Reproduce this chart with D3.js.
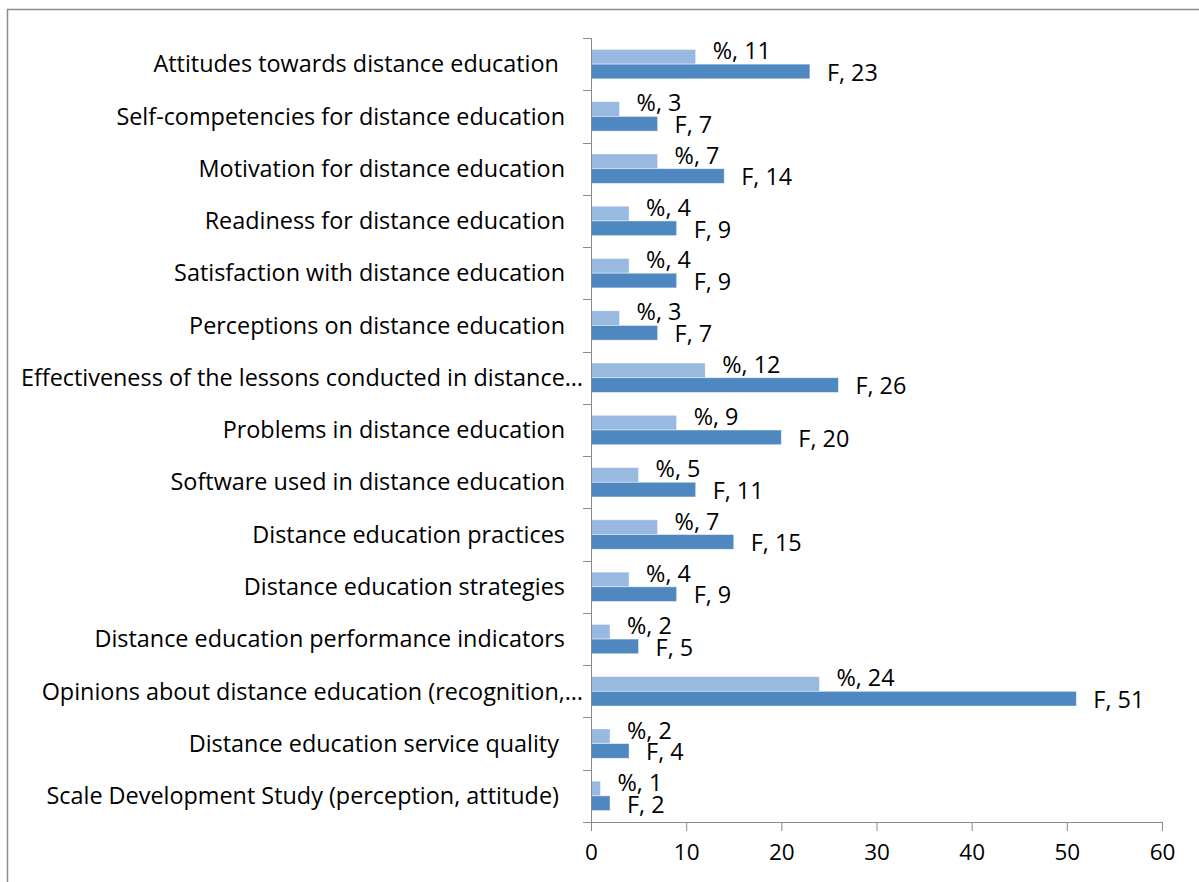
<!DOCTYPE html>
<html>
<head>
<meta charset="utf-8">
<script src="https://cdn.jsdelivr.net/npm/d3@7/dist/d3.min.js"></script>
<style>
  html, body { margin: 0; padding: 0; background: #fff; }
  svg text { font-family: "Open Sans", Lato, sans-serif; white-space: pre; }
</style>
</head>
<body>
<svg id="chart" width="1199" height="882"></svg>
<script>
const categories = [
  "Attitudes towards distance education ",
  "Self-competencies for distance education",
  "Motivation for distance education",
  "Readiness for distance education",
  "Satisfaction with distance education",
  "Perceptions on distance education",
  "Effectiveness of the lessons conducted in distance…",
  "Problems in distance education",
  "Software used in distance education",
  "Distance education practices",
  "Distance education strategies",
  "Distance education performance indicators",
  "Opinions about distance education (recognition,…",
  "Distance education service quality ",
  "Scale Development Study (perception, attitude) "
];
const seriesNames = ["%", "F"];
const percentValues = [11, 3, 7, 4, 4, 3, 12, 9, 5, 7, 4, 2, 24, 2, 1];
const freqValues    = [23, 7, 14, 9, 9, 7, 26, 20, 11, 15, 9, 5, 51, 4, 2];
const xTicks = [0, 10, 20, 30, 40, 50, 60];

const colors = { "%": "#98b9e0", "F": "#4f88c0" };
const axisColor = "#8a8a8a";
const fontSize = 23.4;

const svg = d3.select("#chart");

// chart area border
svg.append("rect")
  .attr("x", 7.5).attr("y", 9.5)
  .attr("width", 1250).attr("height", 950)
  .attr("fill", "none").attr("stroke", "#8c8c8c").attr("stroke-width", 1.5);

const x = d3.scaleLinear().domain([0, 60]).range([591, 1162]);
const y = d3.scaleBand().domain(categories).range([38, 822])
  .paddingInner(0.4375).paddingOuter(0.21875);
const ySub = d3.scaleBand().domain(seriesNames).range([0, y.bandwidth()]);
const step = y.step();
const yTop = 38, yBottom = 822;

const rows = categories.map((c, i) => ({
  cat: c,
  values: [
    { key: "%", value: percentValues[i] },
    { key: "F", value: freqValues[i] }
  ]
}));

// bars
const g = svg.append("g");
const groups = g.selectAll("g.row").data(rows).join("g")
  .attr("class", "row")
  .attr("transform", d => `translate(0,${y(d.cat)})`);

groups.selectAll("rect").data(d => d.values).join("rect")
  .attr("x", x(0))
  .attr("y", d => ySub(d.key))
  .attr("width", d => x(d.value) - x(0))
  .attr("height", ySub.bandwidth())
  .attr("fill", d => colors[d.key])
  .attr("stroke", "rgba(255,255,255,0.55)")
  .attr("stroke-width", 0.8);

// data labels
groups.selectAll("text.lbl").data(d => d.values).join("text")
  .attr("class", "lbl")
  .attr("x", d => x(d.value) + 17)
  .attr("y", d => d.key === "%" ? ySub(d.key) + ySub.bandwidth() - 5 : ySub(d.key) + ySub.bandwidth() + 2)
  .attr("font-size", fontSize)
  .attr("fill", "#000")
  .text(d => `${d.key}, ${d.value}`);

// x axis
const xAxis = d3.axisBottom(x).tickValues(xTicks).tickSize(9).tickPadding(13);
const xg = svg.append("g").attr("transform", `translate(0,${yBottom})`).call(xAxis);
xg.select(".domain").attr("stroke", axisColor).attr("d", `M${x(0)},0.5H${x(60)}`);
xg.selectAll(".tick line").attr("stroke", axisColor);
xg.selectAll(".tick text").attr("font-size", 22.5).attr("fill", "#000")
  .attr("font-family", "'Open Sans', Lato, sans-serif");

// y axis line
svg.append("line")
  .attr("x1", x(0) + 0.5).attr("x2", x(0) + 0.5)
  .attr("y1", yTop).attr("y2", yBottom)
  .attr("stroke", axisColor);

// y ticks at category boundaries
const boundaries = d3.range(categories.length + 1).map(i => yTop + i * step);
svg.append("g").selectAll("line").data(boundaries).join("line")
  .attr("x1", x(0) - 8).attr("x2", x(0))
  .attr("y1", d => Math.round(d) + 0.5).attr("y2", d => Math.round(d) + 0.5)
  .attr("stroke", axisColor);

// category labels
svg.append("g").selectAll("text").data(categories).join("text")
  .attr("x", 565)
  .attr("dx", d => d.endsWith("…") ? 18 : 0)
  .attr("y", d => y(d) + y.bandwidth() / 2)
  .attr("dy", "0.35em")
  .attr("text-anchor", "end")
  .attr("font-size", fontSize)
  .attr("fill", "#000")
  .text(d => d);
</script>
</body>
</html>
